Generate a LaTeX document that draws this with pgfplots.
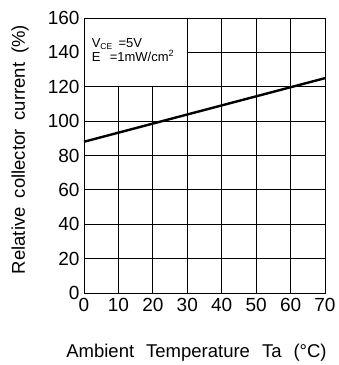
\documentclass[border=0pt]{standalone}
\usepackage{fontspec}
\setmainfont{Liberation Sans}
\usepackage{pgfplots}
\pgfplotsset{compat=1.18}
\begin{document}
\begin{tikzpicture}
\begin{axis}[
  scale only axis, width=241pt, height=275pt,
  xmin=0, xmax=70, ymin=0, ymax=160,
  xtick={0,10,...,70}, ytick={0,20,...,160},
  major tick length=0pt,
  grid=major, grid style={black, line width=0.8pt},
  axis line style={black, line width=0.9pt},
  /pgf/number format/assume math mode=true,
  ticklabel style={font=\fontsize{19}{22}\selectfont},
  xticklabel style={yshift=-2pt},
  yticklabel style={xshift=-1pt},
  xlabel={Ambient\hspace{12pt}Temperature\hspace{12pt}Ta\hspace{12pt}(°C)},
  ylabel={Relative\hspace{9pt}collector\hspace{9pt}current\hspace{9pt}(\%)},
  label style={font=\fontsize{18.5}{22}\selectfont},
  xlabel style={at={(axis description cs:0.5,0)}, anchor=center, yshift=-60pt, xshift=-8pt},
  ylabel style={at={(axis description cs:0,0.5)}, anchor=center, yshift=64pt, xshift=6pt},
  clip=false,
]
\fill[white] (axis cs:0,120) rectangle (axis cs:30,160);
\draw[black, line width=0.8pt] (axis cs:0,120) -- (axis cs:30,120) -- (axis cs:30,160);
\draw[black, line width=0.9pt] (axis cs:0,120) -- (axis cs:0,160) -- (axis cs:30,160);
\node[anchor=west, align=left, font=\fontsize{13}{11}\selectfont, inner sep=0pt] at (axis cs:2.2,141.5)
  {V\textsubscript{\fontsize{8.5}{8}\selectfont CE} \,=5V\\E \ \,=1mW/cm\textsuperscript{2}};
\addplot[black, line width=2.4pt] coordinates {(0,88) (70,125)};
\coordinate (sw) at (rel axis cs:0,0);
\coordinate (ne) at (rel axis cs:1,1);
\end{axis}
\path[use as bounding box] ([xshift=-84pt,yshift=-72pt]sw) rectangle ([xshift=11pt,yshift=18pt]ne);
\end{tikzpicture}
\end{document}
